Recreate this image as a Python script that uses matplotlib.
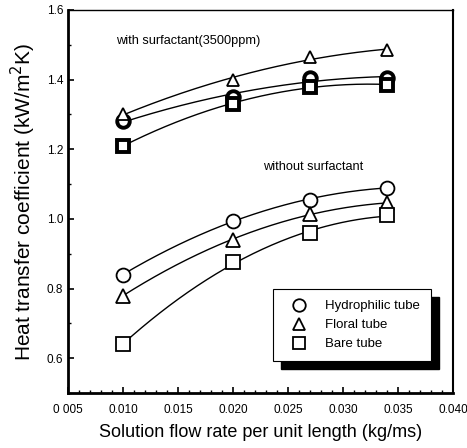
import numpy as np
import matplotlib
matplotlib.use("Agg")
import matplotlib.pyplot as plt
from matplotlib.patches import Rectangle
from matplotlib.ticker import MultipleLocator

plt.rcParams['font.family'] = ['Liberation Sans', 'DejaVu Sans']

# flow rate (kg/ms)
flow = [0.010, 0.020, 0.027, 0.034]

# without surfactant
hydro_wo = [0.84, 0.995, 1.055, 1.09]
floral_wo = [0.78, 0.94, 1.015, 1.045]
bare_wo = [0.64, 0.875, 0.96, 1.01]

# with surfactant (3500 ppm)
hydro_w = [1.28, 1.35, 1.405, 1.405]
floral_w = [1.30, 1.40, 1.465, 1.485]
bare_w = [1.21, 1.33, 1.38, 1.385]

labels = ["Hydrophilic tube", "Floral tube", "Bare tube"]
markers = ["o", "^", "s"]
xticks = [0.005, 0.010, 0.015, 0.020, 0.025, 0.030, 0.035, 0.040]
xticklabels = ["0 005", "0.010", "0.015", "0.020", "0.025", "0.030", "0.035", "0.040"]
yticks = [0.6, 0.8, 1.0, 1.2, 1.4, 1.6]


def smooth(x, y, n=200):
    """Smooth fitted curve through the points (quadratic fit)."""
    c = np.polyfit(x, y, 2)
    xs = np.linspace(min(x), max(x), n)
    return xs, np.polyval(c, xs)


fig = plt.figure(figsize=(4.67, 4.48), dpi=100)
ax = fig.add_axes([68 / 467, 55 / 448, 385 / 467, 383 / 448])

for ys, m, lab in zip([hydro_wo, floral_wo, bare_wo], markers, labels):
    xs, yy = smooth(flow, ys)
    ax.plot(xs, yy, color="black", lw=1.0, zorder=2)
    ax.plot(flow, ys, ls="none", marker=m, ms=10, mfc="white", mec="black",
            mew=1.3, zorder=3, label=lab)

for ys, m, mw in zip([hydro_w, floral_w, bare_w], markers, [2.8, 1.3, 2.8]):
    xs, yy = smooth(flow, ys)
    ax.plot(xs, yy, color="black", lw=1.0, zorder=2)
    ax.plot(flow, ys, ls="none", marker=m, ms=9, mfc="white", mec="black",
            mew=mw, zorder=3)

ax.text(0.0094, 1.51, "with surfactant(3500ppm)", fontsize=9.2, va="center")
ax.text(0.0227, 1.15, "without surfactant", fontsize=9.2, va="center")

ax.set_xlim(0.005, 0.040)
ax.set_ylim(0.5, 1.6)
ax.set_xticks(xticks)
ax.set_xticklabels(xticklabels, fontsize=8.5)
ax.xaxis.set_minor_locator(MultipleLocator(0.001))
ax.set_yticks(yticks)
ax.set_yticklabels([f"{v:.1f}" for v in yticks], fontsize=8.5)
ax.yaxis.set_minor_locator(MultipleLocator(0.1))
ax.tick_params(which="both", direction="in", top=False, right=False)
ax.tick_params(which="major", length=4, width=1.2)
ax.tick_params(which="minor", length=2.5, width=1.0)
ax.tick_params(axis="x", pad=8)
ax.spines["left"].set_linewidth(2.0)
ax.spines["bottom"].set_linewidth(2.0)
ax.spines["top"].set_linewidth(1.0)
ax.spines["right"].set_linewidth(1.5)

ax.set_xlabel("Solution flow rate per unit length (kg/ms)", fontsize=13, labelpad=6)
ax.set_ylabel("Heat transfer coefficient (kW/m$^2$K)", fontsize=15, labelpad=6)

leg = ax.legend(loc="upper left", bbox_to_anchor=(0.532, 0.2715), frameon=True,
                fancybox=False, edgecolor="black", framealpha=1, fontsize=9.5,
                handletextpad=0.9, borderpad=0.85, labelspacing=0.5,
                borderaxespad=0, markerscale=0.9, handlelength=2.2)
leg.get_frame().set_linewidth(0.8)
leg.set_zorder(5)

# black drop shadow behind legend
fig.canvas.draw()
bb = leg.get_window_extent().transformed(ax.transAxes.inverted())
dx, dy = 8 / 385, 8 / 383
ax.add_patch(Rectangle((bb.x0 + dx, bb.y0 - dy), bb.width, bb.height,
                       transform=ax.transAxes, facecolor="black",
                       edgecolor="black", zorder=4))

fig.savefig("out.png", dpi=100)
